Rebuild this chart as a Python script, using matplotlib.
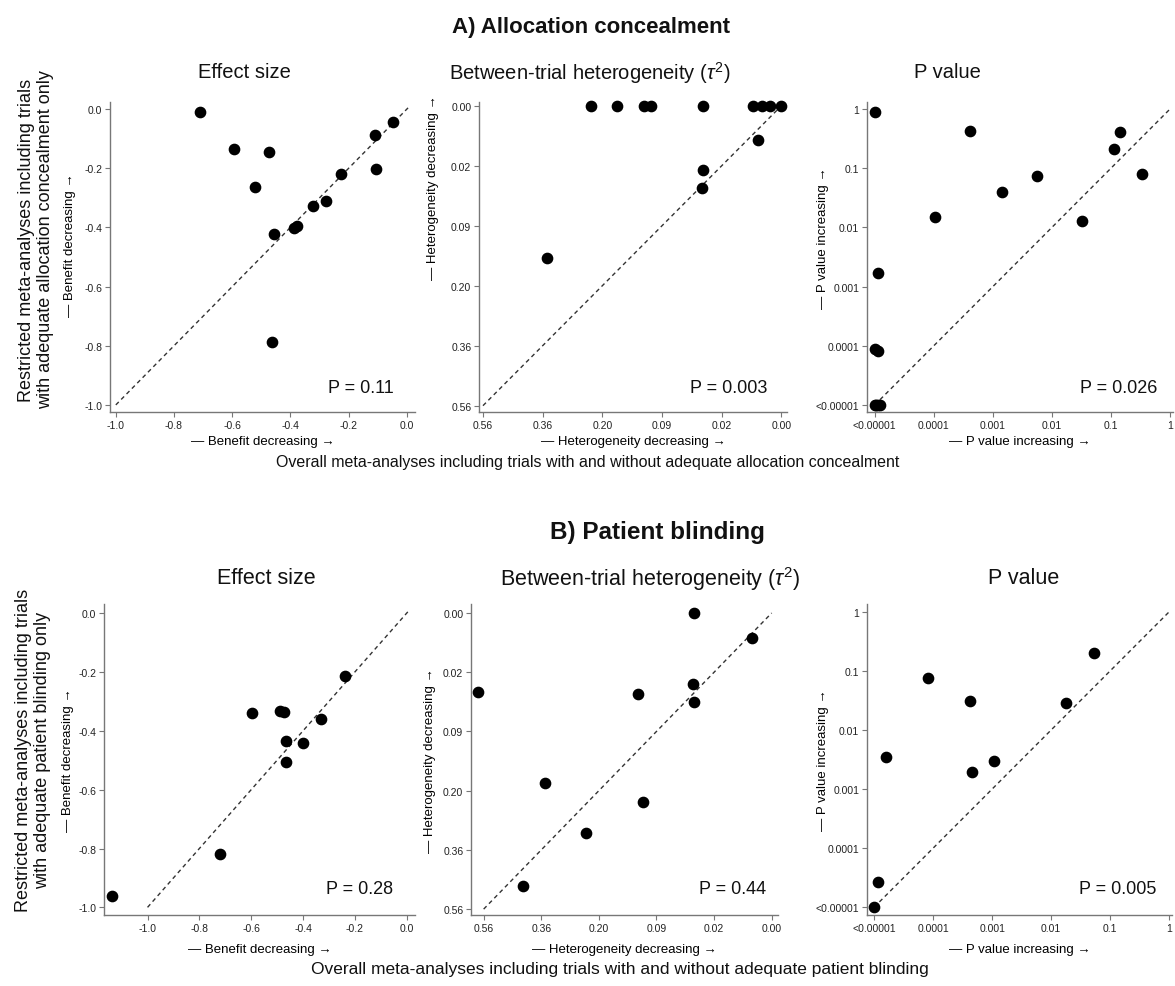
import numpy as np
import matplotlib
matplotlib.use("Agg")
import matplotlib.pyplot as plt

plt.rcParams['font.family'] = ['Liberation Sans', 'DejaVu Sans']
plt.rcParams['mathtext.fontset'] = 'custom'
plt.rcParams['mathtext.rm'] = 'Liberation Sans'
plt.rcParams['mathtext.it'] = 'Liberation Sans:italic'

# A) Allocation concealment -- overall (x) vs restricted (y) meta-analyses
alloc_es_overall = [-0.711, -0.594, -0.474, -0.522, -0.457, -0.465, -0.389,
                    -0.379, -0.321, -0.278, -0.225, -0.109, -0.105, -0.048]
alloc_es_restricted = [-0.009, -0.136, -0.145, -0.264, -0.421, -0.788, -0.401,
                       -0.396, -0.329, -0.310, -0.221, -0.089, -0.204, -0.043]

alloc_tau_overall = [0.229, 0.170, 0.120, 0.108, 0.039, 0.0051, 0.0024,
                     0.0008, 0.0, 0.0036, 0.039, 0.040, 0.346]
alloc_tau_restricted = [0.0, 0.0, 0.0, 0.0, 0.0, 0.0, 0.0,
                        0.0, 0.0, 0.0074, 0.026, 0.042, 0.144]

alloc_p_overall = [1e-5, 4.1e-4, 1.04e-4, 1.44e-3, 5.6e-3, 0.032, 0.111, 0.142,
                   0.331, 1.14e-5, 1e-5, 1.14e-5, 1e-5, 1.07e-5, 1.14e-5, 1.25e-5]
alloc_p_restricted = [0.9, 0.42, 0.0148, 0.039, 0.075, 0.013, 0.208, 0.414,
                      0.080, 0.00167, 8.8e-5, 8.3e-5, 1e-5, 1e-5, 1e-5, 1e-5]

# B) Patient blinding
blind_es_overall = [-1.139, -0.721, -0.598, -0.489, -0.474, -0.331, -0.467,
                    -0.399, -0.467, -0.237]
blind_es_restricted = [-0.960, -0.819, -0.338, -0.334, -0.335, -0.360, -0.434,
                       -0.442, -0.507, -0.215]

blind_tau_overall = [0.586, 0.0408, 0.0027, 0.0415, 0.0408, 0.1215, 0.3476,
                     0.1126, 0.234, 0.4207]
blind_tau_restricted = [0.0404, 0.0, 0.0041, 0.0324, 0.0512, 0.0418, 0.1862,
                        0.2286, 0.3107, 0.4774]

blind_p_overall = [8.2e-5, 4.3e-4, 0.0536, 0.0177, 1.58e-5, 1.07e-3, 4.48e-4,
                   1.17e-5, 1e-5]
blind_p_restricted = [0.0764, 0.0312, 0.198, 0.0289, 0.00352, 0.00294, 0.00192,
                      2.64e-5, 1e-5]

# interaction P values printed in each panel
alloc_pint = ["0.11", "0.003", "0.026"]
blind_pint = ["0.28", "0.44", "0.005"]

# tick marks and labels
es_ticks = [-1.0, -0.8, -0.6, -0.4, -0.2, 0.0]
es_labels = ["-1.0", "-0.8", "-0.6", "-0.4", "-0.2", "0.0"]
tau_ticks = [0.0, 0.0225, 0.09, 0.2025, 0.36, 0.5625]
tau_labels = ["0.00", "0.02", "0.09", "0.20", "0.36", "0.56"]
p_ticks = [1e-5, 1e-4, 1e-3, 1e-2, 0.1, 1]
p_labels = ["<0.00001", "0.0001", "0.001", "0.01", "0.1", "1"]

W, H = 1175, 987
fig = plt.figure(figsize=(W / 100, H / 100), dpi=100)


def sqrt_fwd(v):
    v = np.asarray(v, dtype=float)
    return np.sign(v) * np.sqrt(np.abs(v))


def sqrt_inv(s):
    s = np.asarray(s, dtype=float)
    return np.sign(s) * s ** 2


def make_axes(left, top, right, bottom):
    ax = fig.add_axes([left / W, 1 - bottom / H, (right - left) / W, (bottom - top) / H])
    for side in ("top", "right"):
        ax.spines[side].set_visible(False)
    for side in ("left", "bottom"):
        ax.spines[side].set_color("#777777")
        ax.spines[side].set_linewidth(1.0)
    ax.tick_params(length=3.5, width=0.8, color="#777777", labelsize=7.5,
                   labelcolor="#222222", pad=2)
    ax.minorticks_off()
    return ax


def dots(ax, x, y):
    ax.plot(x, y, "o", color="black", ms=7.4, mec="black", zorder=3, clip_on=False)


def diag(ax, lo, hi):
    ax.plot([lo, hi], [lo, hi], color="#333333", lw=1.0, dashes=(3, 2.5), zorder=2)


def finish(ax, ticks, labels, xlim, ylim, label, ylab_xy, xlab_y):
    ax.set_xlim(*xlim)
    ax.set_ylim(*ylim)
    ax.set_xticks(ticks, labels)
    ax.set_yticks(ticks, labels)
    ax.minorticks_off()
    ax.set_xlabel(label, fontsize=9.5)
    ax.set_ylabel(label, fontsize=9.5)
    ax.yaxis.set_label_coords(*ylab_xy)
    ax.xaxis.set_label_coords(0.5, xlab_y)


def effect_panel(ax, x, y, xlim, ylim, ylab_xy, xlab_y):
    diag(ax, -1.0, 0.005)
    dots(ax, x, y)
    finish(ax, es_ticks, es_labels, xlim, ylim, "— Benefit decreasing →",
           ylab_xy, xlab_y)
    return ax


def tau_panel(ax, x, y, xlim, ylim, ylab_xy, xlab_y):
    # square-root spaced axis, reversed so heterogeneity falls to the right/top
    ax.set_xscale("function", functions=(sqrt_fwd, sqrt_inv))
    ax.set_yscale("function", functions=(sqrt_fwd, sqrt_inv))
    diag(ax, 0.5625, 0.0)
    dots(ax, x, y)
    finish(ax, tau_ticks, tau_labels, xlim, ylim, "— Heterogeneity decreasing →",
           ylab_xy, xlab_y)
    return ax


def p_panel(ax, x, y, xlim, ylim, ylab_xy, xlab_y):
    ax.set_xscale("log")
    ax.set_yscale("log")
    diag(ax, 1e-5, 1.0)
    dots(ax, x, y)
    finish(ax, p_ticks, p_labels, xlim, ylim, "— P value increasing →",
           ylab_xy, xlab_y)
    return ax


def p_text(ax, value, xf, yf):
    ax.text(xf, yf, f"P = {value}", transform=ax.transAxes, ha="right",
            va="center", fontsize=13, color="#111111")


# ---- row A ----
a1 = effect_panel(make_axes(110, 103, 415, 413), alloc_es_overall, alloc_es_restricted,
                  (-1.020, 0.028), (-1.024, 0.024), (-0.111, 0.54), -0.074)
a2 = tau_panel(make_axes(479, 103, 787, 413), alloc_tau_overall, alloc_tau_restricted,
               (0.5776, -0.0002), (0.5865, -0.00009), (-0.130, 0.726), -0.074)
a3 = p_panel(make_axes(867, 103, 1173, 413), alloc_p_overall, alloc_p_restricted,
             (10 ** -5.13, 10 ** 0.05), (10 ** -5.118, 10 ** 0.118),
             (-0.124, 0.565), -0.074)
for ax, v, xf in zip((a1, a2, a3), alloc_pint, (0.93, 0.935, 0.95)):
    p_text(ax, v, xf, 0.08)

# ---- row B ----
b1 = effect_panel(make_axes(104, 605, 415, 916), blind_es_overall, blind_es_restricted,
                  (-1.168, 0.032), (-1.026, 0.031), (-0.096, 0.5), -0.090)
b2 = tau_panel(make_axes(471, 605, 778, 916), blind_tau_overall, blind_tau_restricted,
               (0.613, -0.00027), (0.585, -0.00052), (-0.114, 0.5), -0.090)
b3 = p_panel(make_axes(867, 605, 1172, 916), blind_p_overall, blind_p_restricted,
             (10 ** -5.119, 10 ** 0.046), (10 ** -5.13, 10 ** 0.13),
             (-0.125, 0.5), -0.090)
for ax, v, xf in zip((b1, b2, b3), blind_pint, (0.93, 0.96, 0.95)):
    p_text(ax, v, xf, 0.085)


def ftext(x, y, s, **kw):
    fig.text(x / W, 1 - y / H, s, ha="center", va="center", color="#111111", **kw)


# section and panel titles
ftext(591, 27, "A) Allocation concealment", fontsize=16, fontweight="bold")
ftext(657, 532, "B) Patient blinding", fontsize=17.5, fontweight="bold")
tau_title = r"Between-trial heterogeneity ($\tau^2$)"
for x, s in zip((244, 590, 947), ("Effect size", tau_title, "P value")):
    ftext(x, 73, s, fontsize=14.5)
for x, s in zip((266, 650, 1024), ("Effect size", tau_title, "P value")):
    ftext(x, 579, s, fontsize=15.5)

# shared axis titles
ftext(36, 240, "Restricted meta-analyses including trials\n"
      "with adequate allocation concealment only", fontsize=13, rotation=90,
      linespacing=1.15)
ftext(33, 750, "Restricted meta-analyses including trials\n"
      "with adequate patient blinding only", fontsize=13, rotation=90,
      linespacing=1.15)
ftext(588, 462, "Overall meta-analyses including trials with and without "
      "adequate allocation concealment", fontsize=11.5)
ftext(620, 970, "Overall meta-analyses including trials with and without "
      "adequate patient blinding", fontsize=12.5)

fig.savefig("out.png", dpi=100)
